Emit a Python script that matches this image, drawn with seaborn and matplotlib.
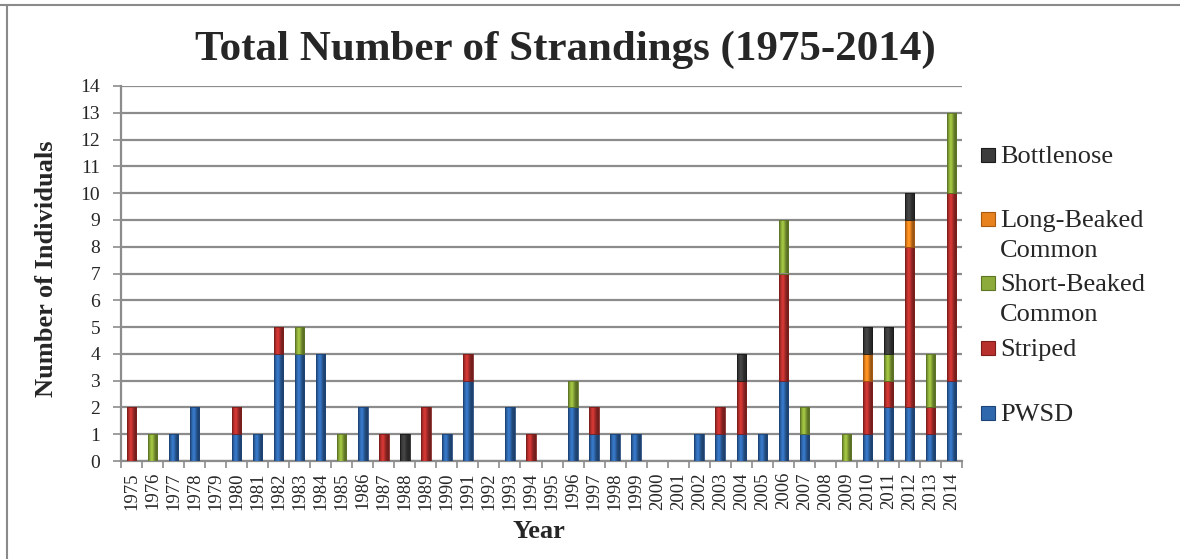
import matplotlib
matplotlib.use("Agg")
import matplotlib.pyplot as plt
from matplotlib.patches import Rectangle
from matplotlib.lines import Line2D
import matplotlib.colors as mcolors
import numpy as np
import pandas as pd
import seaborn as sns

# Strandings per year, by species
years = list(range(1975, 2015))
pwsd = [0, 0, 1, 2, 0, 1, 1, 4, 4, 4, 0, 2, 0, 0, 0, 1, 3, 0, 2, 0,
        0, 2, 1, 1, 1, 0, 0, 1, 1, 1, 1, 3, 1, 0, 0, 1, 2, 2, 1, 3]
striped = [2, 0, 0, 0, 0, 1, 0, 1, 0, 0, 0, 0, 1, 0, 2, 0, 1, 0, 0, 1,
           0, 0, 1, 0, 0, 0, 0, 0, 1, 2, 0, 4, 0, 0, 0, 2, 1, 6, 1, 7]
short_beaked = [0, 1, 0, 0, 0, 0, 0, 0, 1, 0, 1, 0, 0, 0, 0, 0, 0, 0, 0, 0,
                0, 1, 0, 0, 0, 0, 0, 0, 0, 0, 0, 2, 1, 0, 1, 0, 1, 0, 2, 3]
long_beaked = [0, 0, 0, 0, 0, 0, 0, 0, 0, 0, 0, 0, 0, 0, 0, 0, 0, 0, 0, 0,
               0, 0, 0, 0, 0, 0, 0, 0, 0, 0, 0, 0, 0, 0, 0, 1, 0, 1, 0, 0]
bottlenose = [0, 0, 0, 0, 0, 0, 0, 0, 0, 0, 0, 0, 0, 1, 0, 0, 0, 0, 0, 0,
              0, 0, 0, 0, 0, 0, 0, 0, 0, 1, 0, 0, 0, 0, 0, 1, 1, 1, 0, 0]

# Legend order (top to bottom); the last level is stacked at the bottom
species = ["Bottlenose", "Long-Beaked Common", "Short-Beaked Common", "Striped", "PWSD"]
legend_lines = [["Bottlenose"], ["Long-Beaked", "Common"], ["Short-Beaked", "Common"],
                ["Striped"], ["PWSD"]]
series = [bottlenose, long_beaked, short_beaked, striped, pwsd]
colors = ["#3c3c3c", "#e8821e", "#8cab3a", "#b8302d", "#2f68ad"]
edges = ["#1a1a1a", "#a85a10", "#5d7626", "#7d1d1b", "#1d4478"]

frames = [pd.DataFrame({"Year": years, "Species": name, "Count": vals})
          for name, vals in zip(species, series)]
df = pd.concat(frames, ignore_index=True)

sns.set_theme(style="white")
serif = ["Liberation Serif", "DejaVu Serif"]
plt.rcParams["font.family"] = serif

fig = plt.figure(figsize=(11.8, 5.59), dpi=100)
ax = fig.add_axes([121 / 1180, 1 - 461 / 559, (962 - 121) / 1180, (461 - 86) / 559])

palette = dict(zip(species, colors))
sns.histplot(data=df, x="Year", weights="Count", hue="Species",
             hue_order=species, multiple="stack", discrete=True,
             shrink=0.45, palette=palette, alpha=1, linewidth=0,
             legend=False, ax=ax, zorder=3)


def shade_profile(n=32):
    # rounded-column look: dark rims, light band left of centre
    t = np.linspace(0, 1, n)
    return 0.62 + 0.55 * np.exp(-((t - 0.38) / 0.28) ** 2)


edge_map = dict(zip([mcolors.to_hex(c) for c in colors], edges))
prof = shade_profile()
for p in list(ax.patches):
    h = p.get_height()
    if h <= 0:
        continue
    fc = np.array(mcolors.to_rgb(p.get_facecolor()))
    rgb = np.clip(fc[None, :] * prof[:, None], 0, 1)
    x0, y0, w = p.get_x(), p.get_y(), p.get_width()
    im = ax.imshow(rgb[None, :, :], extent=[x0, x0 + w, y0, y0 + h],
                   aspect="auto", interpolation="bilinear", zorder=4)
    im.set_clip_path(p)
    p.set_edgecolor(edge_map.get(mcolors.to_hex(fc), "#333333"))
    p.set_linewidth(0.6)
    p.set_zorder(5)
    p.set_facecolor("none")

grid_color = "#8c8c8c"
ax.set_xlim(1974.5, 2014.5)
ax.set_ylim(0, 14)
ax.set_yticks(range(0, 15))
ax.yaxis.grid(True, color=grid_color, linewidth=1.6, zorder=0)
ax.set_axisbelow(True)

# year labels centred on bars, tick marks between categories
ax.set_xticks(years)
ax.set_xticklabels([str(y) for y in years], rotation=90, fontsize=13.5)
ax.set_xticks(np.arange(1974.5, 2015.0, 1.0), minor=True)
ax.tick_params(axis="x", which="major", length=0, pad=8)
ax.tick_params(axis="x", which="minor", length=5, width=1.2, color=grid_color,
               direction="out", bottom=True)
ax.tick_params(axis="y", length=6, width=1.2, color=grid_color,
               direction="out", left=True, pad=9, labelsize=14)

for side in ["top", "right"]:
    ax.spines[side].set_visible(False)
for side in ["left", "bottom"]:
    ax.spines[side].set_color(grid_color)
    ax.spines[side].set_linewidth(1.6)

ax.set_xlabel("")
ax.set_ylabel("")

fig.text(565 / 1180, 1 - 50 / 559, "Total Number of Strandings (1975-2014)",
         ha="center", va="center", fontsize=31, fontweight="bold", family=serif)
fig.text(47 / 1180, 1 - 269 / 559, "Number of Individuals", rotation=90,
         ha="center", va="center", fontsize=19, fontweight="bold", family=serif)
fig.text(539 / 1180, 1 - 532 / 559, "Year",
         ha="center", va="center", fontsize=19, fontweight="bold", family=serif)

# legend entries
entry_y = [155, 219, 283, 348, 413]
for lines, c, ec, y in zip(legend_lines, colors, edges, entry_y):
    fig.patches.append(Rectangle((981 / 1180, 1 - (y + 7) / 559), 14 / 1180, 14 / 559,
                                 transform=fig.transFigure, facecolor=c,
                                 edgecolor=ec, linewidth=0.8))
    for k, line in enumerate(lines):
        fig.text(1000 / 1180, 1 - (y + 2 + 30 * k) / 559, line, ha="left", va="center",
                 fontsize=19, family=serif)

# outer frame lines
fig.add_artist(Line2D([0, 1], [1 - 5 / 559, 1 - 5 / 559], transform=fig.transFigure,
                      color="#8a8a8a", linewidth=1.5))
fig.add_artist(Line2D([7 / 1180, 7 / 1180], [0, 1 - 5 / 559], transform=fig.transFigure,
                      color="#8a8a8a", linewidth=1.5))

fig.savefig("out.png", dpi=100, facecolor="white")
